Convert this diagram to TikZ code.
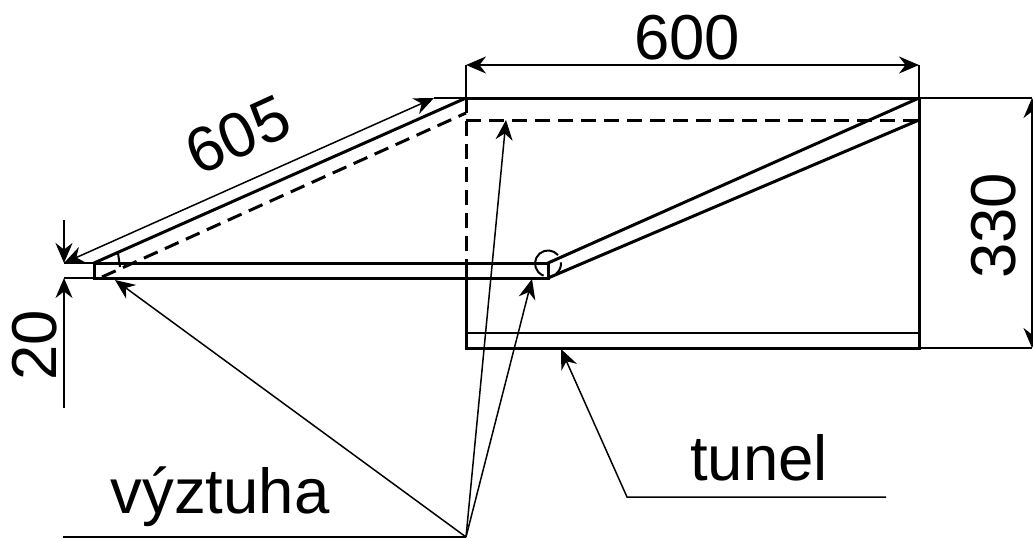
\documentclass[tikz,border=0pt]{standalone}
\usepackage{xcolor}
\usepackage{fontspec}
\setmainfont{Liberation Sans}
\usetikzlibrary{arrows.meta}
\begin{document}
\begin{tikzpicture}[x=1pt, y=-1pt,
  main/.style = {line width=3pt, line cap=round},
  hidden/.style = {line width=3pt, dash pattern=on 15pt off 8pt},
  thinline/.style = {line width=1.5pt},
  dim/.style = {line width=1.5pt, {Stealth[length=20pt,width=17pt]}-{Stealth[length=20pt,width=17pt]}},
  leader/.style = {line width=1.5pt, -{Stealth[length=20pt,width=17pt]}},
  label/.style = {inner sep=0pt, font=\fontsize{63.5}{64}\selectfont}]
\useasboundingbox (0,0) rectangle (1033,538);
% tunnel corners
\coordinate (tl) at (466,98);
\coordinate (tr) at (919,98);
\coordinate (br) at (919,348);
\coordinate (bl) at (466,348);
\coordinate (ml) at (466,263);
\coordinate (il) at (466,333);
\coordinate (ir) at (919,333);
\coordinate (dl) at (466,120);
\coordinate (dr) at (919,120);
\coordinate (dd) at (466,113);
% strut
\coordinate (a1) at (94,263);
\coordinate (a2) at (94,278);
\coordinate (b1) at (548,263);
\coordinate (b2) at (548,278);
\coordinate (a3) at (102,277);
% dimension points
\coordinate (d1) at (466,65);
\coordinate (d2) at (919,65);
\coordinate (d3) at (1032,98);
\coordinate (d4) at (1032,348);
\coordinate (d5) at (64,263);
\coordinate (d6) at (64,278);
\coordinate (d7) at (64,220);
\coordinate (d8) at (64,408);
\coordinate (d9) at (434,98);
% leaders
\coordinate (h) at (466,537);
\coordinate (h0) at (63,537);
\coordinate (t0) at (886,497);
\coordinate (t1) at (627,497);
\coordinate (t2) at (561,349);
\coordinate (p1) at (115,280);
\coordinate (p2) at (506,120);
\coordinate (p3) at (532,279);
% tunnel
\draw[main] (ml) -- (bl) -- (br) -- (tr) -- (tl);
\draw[thinline] (il) -- (ir);
\draw[hidden] (tl) -- (ml);
\draw[hidden] (dl) -- (dr);
% strut
\draw[main] (a1) -- (b1) -- (b2) -- (a2) -- cycle;
\draw[main] (a1) -- (tl);
\draw[main] (b1) -- (tr);
\draw[main] (b2) -- (dr);
\draw[hidden] (a3) -- (dd);
% angle marks
\draw[thinline, line width=2pt] (558,255.1) arc (320:110:13);
\draw[thinline, line width=2pt] (561,262.4) arc (-5:50:13);
\draw[thinline, line width=2pt] (118,253) -- (120,267);
% dimensions
\draw[thinline] (d1) -- (tl);
\draw[thinline] (d2) -- (tr);
\draw[dim] (d1) -- (d2);
\draw[thinline] (tr) -- (d3);
\draw[thinline] (br) -- (d4);
\draw[dim] (d3) -- (d4);
\draw[thinline] (d5) -- (a1);
\draw[thinline] (d6) -- (a2);
\draw[leader] (d7) -- (d5);
\draw[leader] (d8) -- (d6);
\draw[thinline] (d9) -- (tl);
\draw[dim] (d5) -- (d9);
% leaders
\draw[thinline] (h0) -- (h);
\draw[leader] (h) -- (p1);
\draw[leader] (h) -- (p2);
\draw[leader] (h) -- (p3);
\draw[leader] (t0) -- (t1) -- (t2);
% labels
\node[label] (n600) at (687,38) {600};
\node[label, rotate=24.5] (n605) at (238,135) {605};
\node[label, rotate=90] (n330) at (994,226) {330};
\node[label, rotate=90] (n20) at (35,345) {20};
\node[label] (ntunel) at (759,458) {tunel};
\node[label] (nvyz) at (220,497) {výztuha};
\end{tikzpicture}
\end{document}
